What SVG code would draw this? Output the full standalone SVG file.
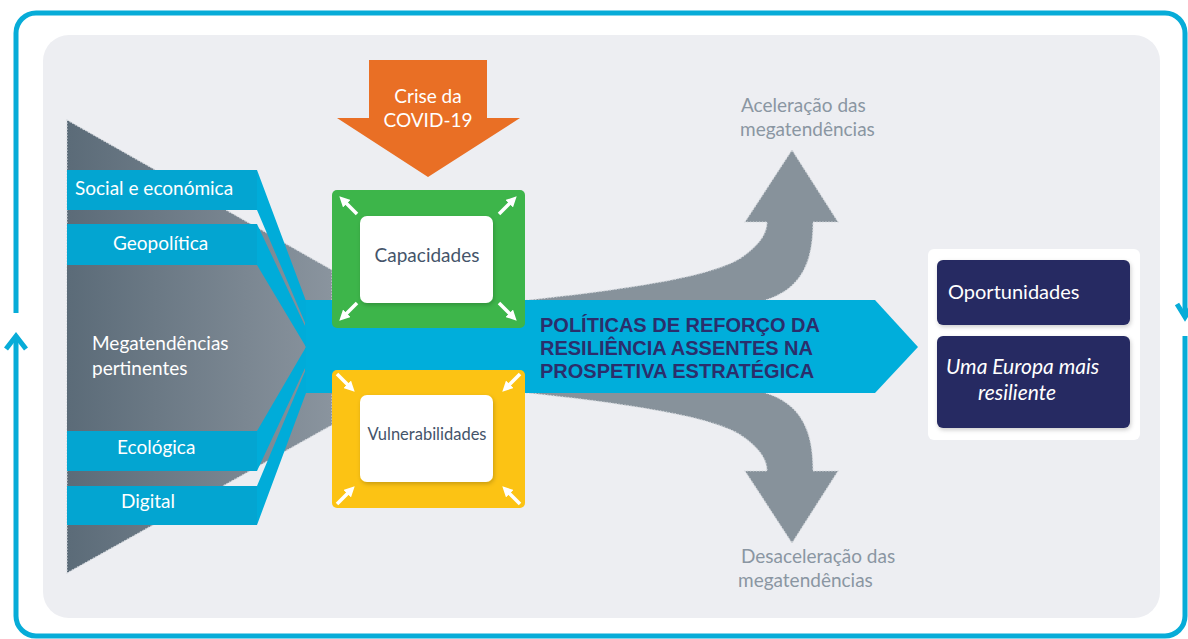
<svg xmlns="http://www.w3.org/2000/svg" width="1188" height="639" viewBox="0 0 1188 639">
<style>
.lbl{font-family:Lato,"Open Sans","Liberation Sans",sans-serif;font-size:19px;fill:#fff}
.dark{fill:#44546a}
.grey{fill:#8a96a2}
.ttl{font-family:"Liberation Sans",Arial,sans-serif;font-weight:bold;font-size:20px;fill:#2b2e6c}
.bar{fill:#03a5d1}
.strand{fill:#00acd9}
.wa{stroke:#fff;stroke-width:3.5;fill:none;marker-end:url(#ah)}
.dots{stroke:#d3d7dc;stroke-width:1.2;stroke-dasharray:1.5 1.5}
.frame{fill:none;stroke:#07acd8;stroke-width:5}
</style>
<defs>
<linearGradient id="fg" gradientUnits="userSpaceOnUse" x1="67" y1="0" x2="332" y2="0">
<stop offset="0" stop-color="#5b6b78"/><stop offset="1" stop-color="#8a949e"/>
</linearGradient>
<marker id="ah" viewBox="0 0 10 10" refX="5" refY="5" markerWidth="3" markerHeight="3" orient="auto">
<path d="M0,0 L10,5 L0,10 z" fill="#fff"/>
</marker>
<filter id="sh" x="-10%" y="-10%" width="130%" height="130%">
<feDropShadow dx="1" dy="2" stdDeviation="2" flood-color="#000" flood-opacity="0.2"/>
</filter>
</defs>

<rect id="panel" x="43" y="35" width="1117" height="583" rx="26" fill="#edeef2"/>

<g id="connectors">
<path class="frame" d="M16 313 V33 A20 20 0 0 1 36 13 H1165 A20 20 0 0 1 1185 33 V316"/>
<path class="frame" d="M1177 304 L1185 317 L1193 304"/>
<path class="frame" d="M1185 336 V616 A20 20 0 0 1 1165 636 H36 A20 20 0 0 1 16 616 V338"/>
<path class="frame" d="M6 349 L16 336 L26 349"/>
</g>

<g id="funnel">
<polygon points="67,120 332,270 332,425 67,573" fill="url(#fg)" class="dots"/>
</g>

<g id="aceleracao">
<path d="M520 301 C640 288 720 275 745 255 C762 242 767 232 767 222 L745 222 L792 150 L838 222 L813 222 C813 260 803 290 762 301 Z" fill="#87929b" class="dots"/>
<text class="lbl grey" x="741" y="112">Aceleração das</text>
<text class="lbl grey" x="740" y="136">megatendências</text>
</g>

<g id="desaceleracao">
<path d="M520 392 C640 405 720 418 745 438 C762 451 767 461 767 471 L745 471 L792 543 L838 471 L813 471 C813 433 803 403 762 392 Z" fill="#87929b" class="dots"/>
<text class="lbl grey" x="741" y="563">Desaceleração das</text>
<text class="lbl grey" x="738" y="587">megatendências</text>
</g>

<g id="politicas">
<polygon points="305,300 875,300 918,347 875,393 305,393" fill="#00aedb"/>
<text class="ttl" x="540" y="332">POLÍTICAS DE REFORÇO DA</text>
<text class="ttl" x="540" y="355">RESILIÊNCIA ASSENTES NA</text>
<text class="ttl" x="540" y="378">PROSPETIVA ESTRATÉGICA</text>
</g>

<g id="megatendencias">
<polygon points="67,265 257,265 306,347 257,431 67,431" fill="url(#fg)"/>
<text class="lbl" x="92" y="350">Megatendências</text>
<text class="lbl" x="92" y="375">pertinentes</text>
</g>

<g id="social">
<polygon class="strand" points="67,170 257,170 306,301 306,325 257,210 67,210"/>
<rect class="bar" x="67" y="170" width="190" height="40"/>
<text class="lbl" x="75" y="195">Social e económica</text>
</g>
<g id="geopolitica">
<polygon class="strand" points="67,224 257,224 306,328 306,347 257,265 67,265"/>
<rect class="bar" x="67" y="224" width="190" height="41"/>
<text class="lbl" x="113" y="250">Geopolítica</text>
</g>
<g id="ecologica">
<polygon class="strand" points="67,431 257,431 306,347 306,366 257,471 67,471"/>
<rect class="bar" x="67" y="431" width="190" height="40"/>
<text class="lbl" x="117" y="454">Ecológica</text>
</g>
<g id="digital">
<polygon class="strand" points="67,486 257,486 306,369 306,393 257,525 67,525"/>
<rect class="bar" x="67" y="486" width="190" height="39"/>
<text class="lbl" x="121" y="508">Digital</text>
</g>

<g id="capacidades">
<rect x="332" y="190" width="193" height="138" rx="5" fill="#3db54a"/>
<rect x="360" y="216" width="133" height="87" rx="7" fill="#fff" filter="url(#sh)"/>
<text class="lbl dark" x="427" y="262" text-anchor="middle">Capacidades</text>
<line class="wa" x1="357" y1="214" x2="343" y2="200"/>
<line class="wa" x1="499" y1="214" x2="513" y2="200"/>
<line class="wa" x1="357" y1="303" x2="343" y2="317"/>
<line class="wa" x1="499" y1="303" x2="513" y2="317"/>
</g>

<g id="vulnerabilidades">
<rect x="332" y="370" width="193" height="138" rx="5" fill="#fcc314"/>
<rect x="360" y="395" width="133" height="87" rx="7" fill="#fff" filter="url(#sh)"/>
<text class="lbl dark" x="427" y="440" text-anchor="middle" style="font-size:16.5px">Vulnerabilidades</text>
<line class="wa" x1="337" y1="374" x2="351" y2="388"/>
<line class="wa" x1="520" y1="374" x2="506" y2="388"/>
<line class="wa" x1="337" y1="504" x2="351" y2="490"/>
<line class="wa" x1="520" y1="504" x2="506" y2="490"/>
</g>

<g id="covid">
<polygon points="369,60 487,60 487,118 520,118 428,177 337,118 369,118" fill="#e96f25"/>
<text class="lbl" x="428" y="103" text-anchor="middle">Crise da</text>
<text class="lbl" x="428" y="127" text-anchor="middle">COVID-19</text>
</g>

<g id="resultados">
<rect x="928" y="249" width="212" height="191" rx="6" fill="#fff"/>
<g id="oportunidades">
<rect x="937" y="260" width="193" height="65" rx="6" fill="#272c62" filter="url(#sh)"/>
<text class="lbl" x="948" y="299" style="font-size:20px">Oportunidades</text>
</g>
<g id="europa">
<rect x="937" y="336" width="193" height="92" rx="6" fill="#272c62" filter="url(#sh)"/>
<text class="lbl" x="946" y="374" font-style="italic" style="font-size:21px">Uma Europa mais</text>
<text class="lbl" x="978" y="400" font-style="italic" style="font-size:21px">resiliente</text>
</g>
</g>
</svg>
